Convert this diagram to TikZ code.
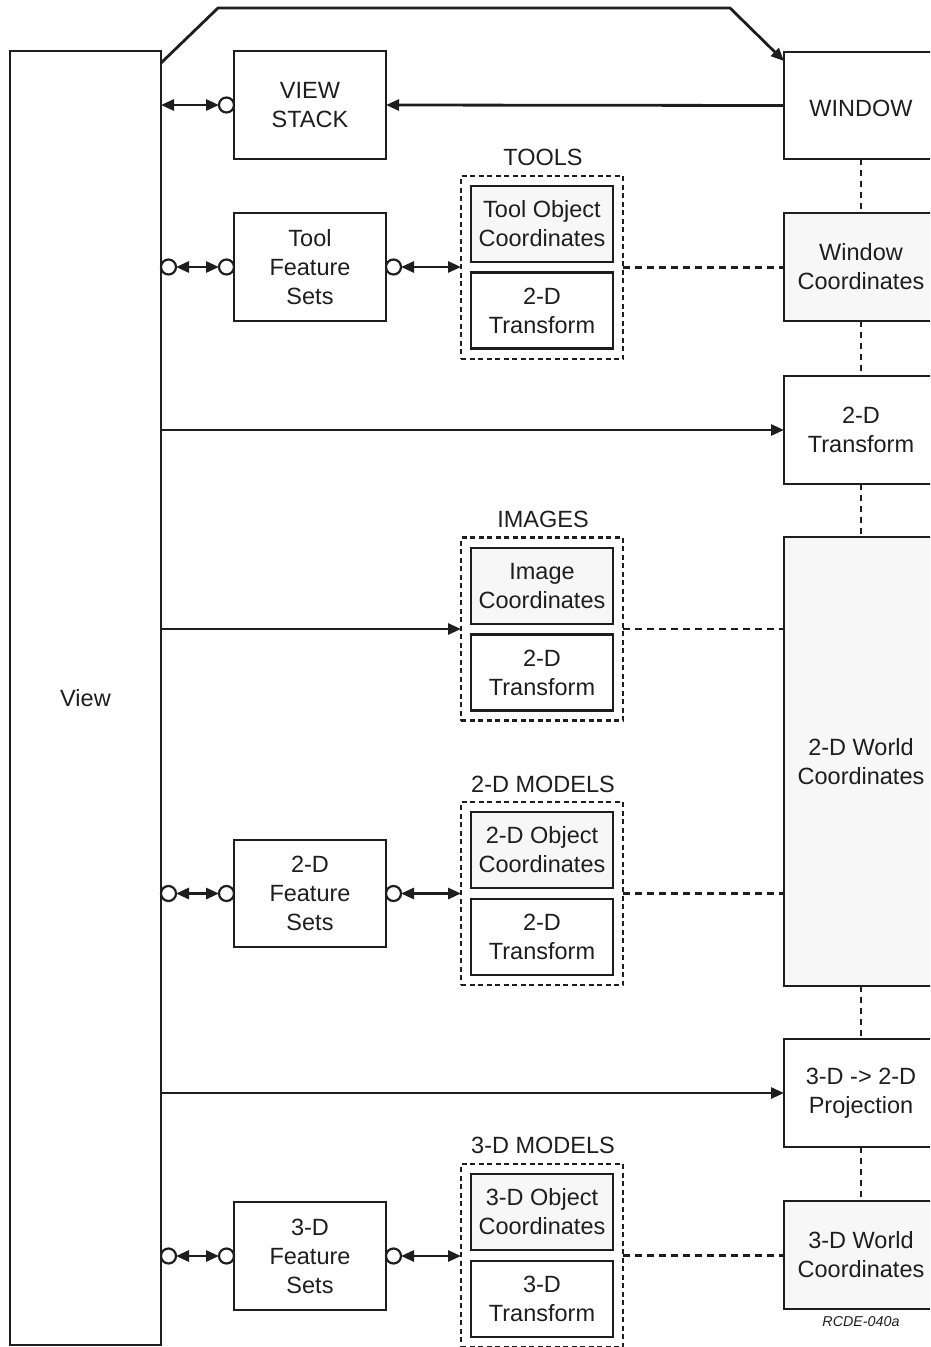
\documentclass[tikz,border=0pt]{standalone}
\usepackage{fontspec}
\setmainfont{Liberation Sans}
\usetikzlibrary{arrows.meta,calc}
\definecolor{ink}{HTML}{1E1E1E}
\definecolor{paper}{HTML}{F7F7F7}

\begin{document}
\begin{tikzpicture}[x=1pt,y=-1pt,
  every node/.style={font=\fontsize{23.5}{29}\selectfont, text=ink},
  box/.style={draw=ink, line width=2.3pt, fill=white, align=center, inner sep=0pt, outer sep=0pt},
  shaded/.style={fill=paper},
  sidebox/.style={box, minimum width=152pt, minimum height=108pt},
  rightbox/.style={box, minimum width=154pt, minimum height=108pt},
  innerbox/.style={box, minimum width=142pt, minimum height=76pt},
  group/.style={draw=ink, line width=2.3pt, dash pattern=on 5pt off 3.5pt,
    minimum width=162pt, minimum height=183pt, inner sep=0pt, outer sep=0pt},
  port/.style={circle, draw=ink, line width=2.2pt, fill=white, minimum size=15pt,
    inner sep=0pt, outer sep=0pt},
  tip/.tip={Triangle[length=13pt,width=11pt]},
  arr/.style={draw=ink, line width=2.8pt, -tip},
  biarr/.style={draw=ink, line width=2.8pt, tip-tip},
  link/.style={draw=ink, line width=2.6pt, dash pattern=on 7pt off 5pt},
  chain/.style={draw=ink, line width=2.8pt, dash pattern=on 6pt off 5pt},
]
\useasboundingbox (0,0) rectangle (930,1347);
\clip (0,0) rectangle (930,1347);

% ---- main View column
\node[box, minimum width=151pt, minimum height=1294pt] (view) at (85.5,698) {View};

% ---- left feature-set boxes
\node[sidebox] (vstack) at (310,105) {VIEW\\STACK};
\node[sidebox] (tfs) at (310,267) {Tool\\Feature\\Sets};
\node[sidebox, minimum height=107pt] (fs2d) at (310,893.5) {2-D\\Feature\\Sets};
\node[sidebox] (fs3d) at (310,1256) {3-D\\Feature\\Sets};

% ---- right column (coordinate systems)
\node[rightbox, minimum height=107pt] (window) at (861,105.5) {\raisebox{-3pt}[\height][0pt]{WINDOW}};
\node[rightbox, shaded] (wincoord) at (861,267) {Window\\Coordinates};
\node[rightbox] (xf2d) at (861,430) {2-D\\Transform};
\node[rightbox, shaded, minimum height=449pt] (world2d) at (861,761.5) {2-D World\\Coordinates};
\node[rightbox] (proj) at (861,1093) {3-D -> 2-D\\Projection};
\node[rightbox, shaded] (world3d) at (861,1255) {3-D World\\Coordinates};
\node[font=\fontsize{14.3}{16}\selectfont\itshape] (tag) at (861,1322) {RCDE-040a};

% ---- middle groups
\node[group] (tools) at (542,267.5) {};
\node[innerbox, shaded] (toolobj) at (542,224) {Tool Object\\Coordinates};
\node[innerbox] (toolxf) at (542,310.5) {2-D\\Transform};
\node (toolslbl) at (543,157) {TOOLS};

\node[group] (images) at (542,629) {};
\node[innerbox, shaded] (imgcoord) at (542,586) {Image\\Coordinates};
\node[innerbox] (imgxf) at (542,672.5) {2-D\\Transform};
\node (imageslbl) at (543,519) {IMAGES};

\node[group] (models2d) at (542,893.5) {};
\node[innerbox, shaded] (obj2d) at (542,850) {2-D Object\\Coordinates};
\node[innerbox] (m2dxf) at (542,937) {2-D\\Transform};
\node (models2dlbl) at (543,784) {2-D MODELS};

\node[group] (models3d) at (542,1255.5) {};
\node[innerbox, shaded] (obj3d) at (542,1212) {3-D Object\\Coordinates};
\node[innerbox] (m3dxf) at (542,1299) {3-D\\Transform};
\node (models3dlbl) at (543,1145) {3-D MODELS};

% ---- ports
\node[port, anchor=east] (pvs) at (vstack.west) {};
\node[port, anchor=west] (ptl) at (view.east |- tfs.west) {};
\node[port, anchor=east] (ptr) at (tfs.west) {};
\node[port, anchor=west] (pto) at (tfs.east) {};
\node[port, anchor=west] (p2l) at (view.east |- fs2d.west) {};
\node[port, anchor=east] (p2r) at (fs2d.west) {};
\node[port, anchor=west] (p2o) at (fs2d.east) {};
\node[port, anchor=west] (p3l) at (view.east |- fs3d.west) {};
\node[port, anchor=east] (p3r) at (fs3d.west) {};
\node[port, anchor=west] (p3o) at (fs3d.east) {};

% ---- connectors
\coordinate (topl) at (218,8);
\coordinate (topr) at (730,8);
\draw[arr, line join=miter] ($(view.north east)+(0,12)$) -- (topl) -- (topr)
  -- ($(window.north west)+(0,9)$);
\draw[arr] (window.west) -- (vstack.east);
\draw[biarr] (view.east |- pvs.west) -- (pvs.west);

\draw[biarr] (ptl.east) -- (ptr.west);
\draw[biarr] (pto.east) -- (tools.west |- pto.east);
\draw[biarr] (p2l.east) -- (p2r.west);
\draw[biarr] (p2o.east) -- (models2d.west |- p2o.east);
\draw[biarr] (p3l.east) -- (p3r.west);
\draw[biarr] (p3o.east) -- (models3d.west |- p3o.east);

\draw[arr] (view.east |- xf2d.west) -- (xf2d.west);
\draw[arr] (view.east |- images.west) -- (images.west);
\draw[arr] (view.east |- proj.west) -- (proj.west);

\draw[link] (tools.east) -- (wincoord.west |- tools.east);
\draw[link] (images.east) -- (world2d.west |- images.east);
\draw[link] (models2d.east) -- (world2d.west |- models2d.east);
\draw[link] (models3d.east) -- (world3d.west |- models3d.east);

\draw[chain] (window.south) -- (wincoord.north);
\draw[chain] (wincoord.south) -- (xf2d.north);
\draw[chain] (xf2d.south) -- (world2d.north);
\draw[chain] (world2d.south) -- (proj.north);
\draw[chain] (proj.south) -- (world3d.north);
\end{tikzpicture}
\end{document}
